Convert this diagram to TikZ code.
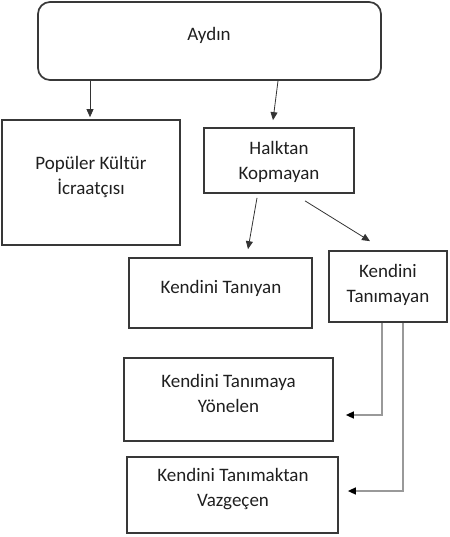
\documentclass[tikz,border=0pt]{standalone}
\usepackage{fontspec}
\setmainfont{Carlito}
\usetikzlibrary{arrows.meta,calc}
\begin{document}
\begin{tikzpicture}[x=1pt,y=-1pt,
  box/.style={draw=black!78,line width=1.7pt,rectangle,inner sep=0pt},
  txt/.style={inner sep=0pt,align=center,text=black!88,font=\fontsize{19}{25}\selectfont},
  arr/.style={draw=black!80,line width=0.8pt,-{Triangle[length=8pt,width=7pt]}},
  garr/.style={draw=black!40,line width=1.4pt,-{Triangle[length=8pt,width=7pt,color=black,fill=black]}}]
\useasboundingbox (0,0) rectangle (449,537);
% boxes
\node[box,rounded corners=12pt,minimum width=343pt,minimum height=78pt] (ay) at (209.5,41) {};
\node[box,minimum width=178pt,minimum height=125pt] (pop) at (91,182.5) {};
\node[box,minimum width=150pt,minimum height=65pt] (halk) at (279,160.5) {};
\node[box,minimum width=183pt,minimum height=70pt] (tan) at (220.5,293) {};
\node[box,minimum width=118pt,minimum height=71pt] (tm) at (388,286.5) {};
\node[box,minimum width=209pt,minimum height=83pt] (yon) at (228.5,399.5) {};
\node[box,minimum width=211pt,minimum height=76pt] (vaz) at (232.5,495) {};
% texts
\node[txt] (tay) at (209,35) {Aydın};
\node[txt] (tpop) at (91,177) {Popüler Kültür\\İcraatçısı};
\node[txt] (thalk) at (279,162) {Halktan\\Kopmayan};
\node[txt] (ttan) at (221,288) {Kendini Tanıyan};
\node[txt] (ttm) at (388,284.5) {Kendini\\Tanımayan};
\node[txt] (tyon) at (228.5,393) {Kendini Tanımaya\\Yönelen};
\node[txt] (tvaz) at (233,489) {Kendini Tanımaktan\\Vazgeçen};
% connectors
\draw[arr] ([xshift=-119.5pt]ay.south) -- ([xshift=-1pt,yshift=2pt]pop.north);
\draw[arr] ([xshift=68.5pt]ay.south) -- ([xshift=-6pt,yshift=7pt]halk.north);
\draw[arr] ([xshift=-22pt,yshift=-4pt]halk.south) -- ([xshift=27.5pt,yshift=8pt]tan.north);
\draw[arr] ([xshift=26pt,yshift=-7pt]halk.south) -- ([xshift=-18pt,yshift=9pt]tm.north);
\draw[garr] ([xshift=-6pt]tm.south) |- ([xshift=12pt,yshift=-15.5pt]yon.east);
\draw[garr] ([xshift=15pt]tm.south) |- ([xshift=9pt,yshift=4pt]vaz.east);
\end{tikzpicture}
\end{document}
